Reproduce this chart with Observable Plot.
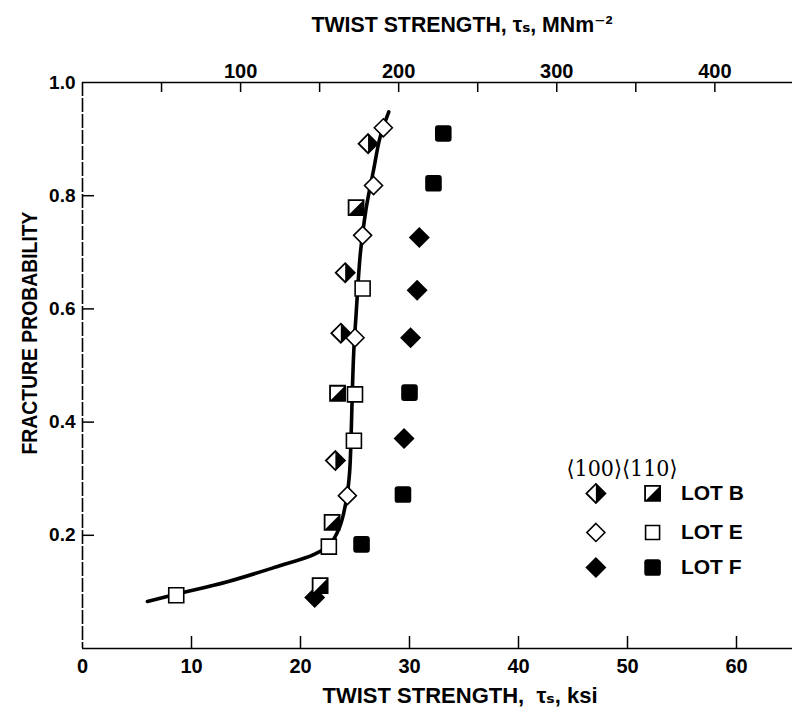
<!DOCTYPE html>
<html><head><meta charset="utf-8">
<script src="https://cdn.jsdelivr.net/npm/d3@7"></script>
<script src="https://cdn.jsdelivr.net/npm/@observablehq/plot@0.6"></script>
<style>body{margin:0;background:#fff} svg{display:block}</style>
</head><body><div id="chart"></div>
<script>
// ---------- data (ksi, fracture probability) ----------
const lotB100 = [[26.2,0.892],[24.1,0.664],[23.7,0.557],[23.2,0.332]];
const lotB110 = [[25.1,0.779],[23.4,0.451],[22.9,0.223],[21.8,0.111]];
const lotE100 = [[27.6,0.920],[26.7,0.818],[25.7,0.730],[25.0,0.549],[24.3,0.270]];
const lotE110 = [[25.7,0.636],[25.0,0.449],[24.9,0.367],[22.6,0.180],[8.6,0.094]];
const lotF100 = [[30.9,0.726],[30.7,0.633],[30.1,0.549],[29.5,0.371],[21.3,0.090]];
const lotF110 = [[33.1,0.910],[32.2,0.822],[30.0,0.452],[29.4,0.272],[25.6,0.184]];
const fitCurve = [[5.96,0.083],[8.62,0.096],[13.3,0.118],[17.9,0.145],[21.2,0.166],[22.6,0.182],
  [23.6,0.215],[24.2,0.262],[24.5,0.310],[24.65,0.380],[24.75,0.451],[24.9,0.530],[25.1,0.590],
  [25.5,0.700],[26.0,0.775],[26.7,0.845],[27.3,0.903],[28.1,0.948]];
const ksiTicks = [0,10,20,30,40,50,60];
const mpaTicks = [50,100,150,200,250,300,350,400];
const mpaLabels = [100,200,300,400];
const probTicks = [0.2,0.4,0.6,0.8,1.0];
const legendHeader = "\u27E8100\u27E9\u27E8110\u27E9";
const legendRows = ["LOT B","LOT E","LOT F"];
const topTitle = "TWIST STRENGTH, \u03C4\u209B, MNm\u207B\u00B2";
const bottomTitle = "TWIST STRENGTH,  \u03C4\u209B, ksi";
const yTitle = "FRACTURE PROBABILITY";
const KSI_TO_MPA = 6.895;

// ---------- layout ----------
const W = 792, H = 719, mL = 82, mR = 0, mT = 82, mB = 71;
const frameW = W - mL - mR, frameH = H - mT - mB;
const SANS = "'Liberation Sans',Arial,'DejaVu Sans',sans-serif";

// ---------- symbols ----------
const diamond = {draw(c, s){const r=Math.sqrt(s/Math.PI); c.moveTo(0,-r); c.lineTo(r,0); c.lineTo(0,r); c.lineTo(-r,0); c.closePath();}};
const halfDiamond = {draw(c, s){const r=Math.sqrt(s/Math.PI); c.moveTo(0,-r); c.lineTo(r,0); c.lineTo(0,r); c.closePath();}};
const square = {draw(c, s){const r=Math.sqrt(s/Math.PI); c.rect(-r,-r,2*r,2*r);}};
const halfSquare = {draw(c, s){const r=Math.sqrt(s/Math.PI); c.moveTo(r,-r); c.lineTo(r,r); c.lineTo(-r,r); c.closePath();}};
const roundSquare = {draw(c, s){const r=Math.sqrt(s/Math.PI), k=r*0.35;
  c.moveTo(-r+k,-r); c.lineTo(r-k,-r); c.arcTo(r,-r,r,-r+k,k); c.lineTo(r,r-k); c.arcTo(r,r,r-k,r,k);
  c.lineTo(-r+k,r); c.arcTo(-r,r,-r,r-k,k); c.lineTo(-r,-r+k); c.arcTo(-r,-r,-r+k,-r,k); c.closePath();}};

const X = d => d[0], Y = d => d[1];

// legend placement (data coordinates)
const LEG = {x100: 47.1, x110: 52.3, xText: 54.9, xHead: 44.4, yHead: 0.318, rows: [0.274, 0.205, 0.143]};
const legRow = i => [[0, LEG.rows[i]]];

const plot = Plot.plot({
  width: W, height: H,
  marginLeft: mL, marginRight: mR, marginTop: mT, marginBottom: mB,
  x: {domain: [0, frameW / 10.9]},
  y: {domain: [0, 1]},
  style: {fontFamily: SANS, fontSize: "19px", fontWeight: "bold", color: "black", background: "white"},
  marks: [
    // frame lines
    Plot.ruleY([0, 1], {strokeWidth: 1.6}),
    Plot.ruleX([0], {strokeWidth: 1.6, strokeDasharray: "14,2"}),
    // ticks (inward)
    Plot.tickX(ksiTicks.slice(1), {x: d => d, insetTop: frameH - 12, strokeWidth: 1.5}),
    Plot.tickX(mpaTicks, {x: d => d / KSI_TO_MPA, insetBottom: frameH - 10, strokeWidth: 1.5}),
    Plot.tickY(probTicks.slice(0, -1), {y: d => d, insetRight: frameW - 12, strokeWidth: 1.5}),
    // tick labels
    Plot.axisX({anchor: "bottom", ticks: ksiTicks, tickSize: 0, tickPadding: 10, label: null, fontSize: 20}),
    Plot.axisX({anchor: "top", ticks: mpaLabels.map(m => m / KSI_TO_MPA), tickFormat: d => Math.round(d * KSI_TO_MPA), tickSize: 0, tickPadding: 5, label: null, fontSize: 20}),
    Plot.axisY({anchor: "left", ticks: probTicks, tickFormat: d3.format(".1f"), tickSize: 0, tickPadding: 7, label: null, fontSize: 19}),
    // fitted curve
    Plot.line(fitCurve, {x: X, y: Y, curve: "catmull-rom", strokeWidth: 3.6, stroke: "black"}),
    // data
    Plot.dot(lotF100, {x: X, y: Y, symbol: diamond, r: 10.5, fill: "black"}),
    Plot.dot(lotF110, {x: X, y: Y, symbol: roundSquare, r: 8.3, fill: "black"}),
    Plot.dot(lotE100, {x: X, y: Y, symbol: diamond, r: 9, fill: "white", stroke: "black", strokeWidth: 1.6}),
    Plot.dot(lotE110, {x: X, y: Y, symbol: square, r: 7.5, fill: "white", stroke: "black", strokeWidth: 1.6}),
    Plot.dot(lotB100, {x: X, y: Y, symbol: diamond, r: 9.5, fill: "white", stroke: "black", strokeWidth: 1.8}),
    Plot.dot(lotB100, {x: X, y: Y, symbol: halfDiamond, r: 9.5, fill: "black"}),
    Plot.dot(lotB110, {x: X, y: Y, symbol: square, r: 7.5, fill: "white", stroke: "black", strokeWidth: 1.8}),
    Plot.dot(lotB110, {x: X, y: Y, symbol: halfSquare, r: 7.5, fill: "black"}),
    // legend
    Plot.text([legendHeader], {x: LEG.xHead, y: LEG.yHead, text: d => d, textAnchor: "start", fontSize: 22, fontFamily: "'DejaVu Serif','DejaVu Sans',serif", fontWeight: "normal"}),
    Plot.dot(legRow(0), {x: LEG.x100, y: Y, symbol: diamond, r: 9.5, fill: "white", stroke: "black", strokeWidth: 1.8}),
    Plot.dot(legRow(0), {x: LEG.x100, y: Y, symbol: halfDiamond, r: 9.5, fill: "black"}),
    Plot.dot(legRow(0), {x: LEG.x110, y: Y, symbol: square, r: 7.5, fill: "white", stroke: "black", strokeWidth: 1.8}),
    Plot.dot(legRow(0), {x: LEG.x110, y: Y, symbol: halfSquare, r: 7.5, fill: "black"}),
    Plot.dot(legRow(1), {x: LEG.x100, y: Y, symbol: diamond, r: 9, fill: "white", stroke: "black", strokeWidth: 1.6}),
    Plot.dot(legRow(1), {x: LEG.x110, y: Y, symbol: square, r: 7, fill: "white", stroke: "black", strokeWidth: 1.6}),
    Plot.dot(legRow(2), {x: LEG.x100, y: Y, symbol: diamond, r: 10.5, fill: "black"}),
    Plot.dot(legRow(2), {x: LEG.x110, y: Y, symbol: roundSquare, r: 8.3, fill: "black"}),
    Plot.text(legendRows, {x: LEG.xText, y: (d, i) => LEG.rows[i], text: d => d, textAnchor: "start", fontSize: 21, fontFamily: SANS})
  ]
});

const svg = d3.select(plot);
// fit the legend header to its reference width
svg.selectAll("text").filter(function(){ return this.textContent === legendHeader; })
  .attr("textLength", 111).attr("lengthAdjust", "spacingAndGlyphs");

// axis titles (single text elements, condensed via textLength)
function title(x, y, txt, len, rotate) {
  svg.append("text").attr("text-anchor", "middle").attr("fill", "black")
    .attr("xml:space", "preserve")
    .style("font-family", SANS).style("font-size", "22px").style("font-weight", "bold")
    .attr("textLength", len).attr("lengthAdjust", "spacingAndGlyphs")
    .attr("transform", `translate(${x},${y})` + (rotate ? " rotate(-90)" : ""))
    .text(txt);
}
title(462, 32, topTitle, 301);
title(460, 703, bottomTitle, 275);
title(37, 333, yTitle, 243, true);

document.getElementById("chart").appendChild(plot);
</script>
</body></html>
